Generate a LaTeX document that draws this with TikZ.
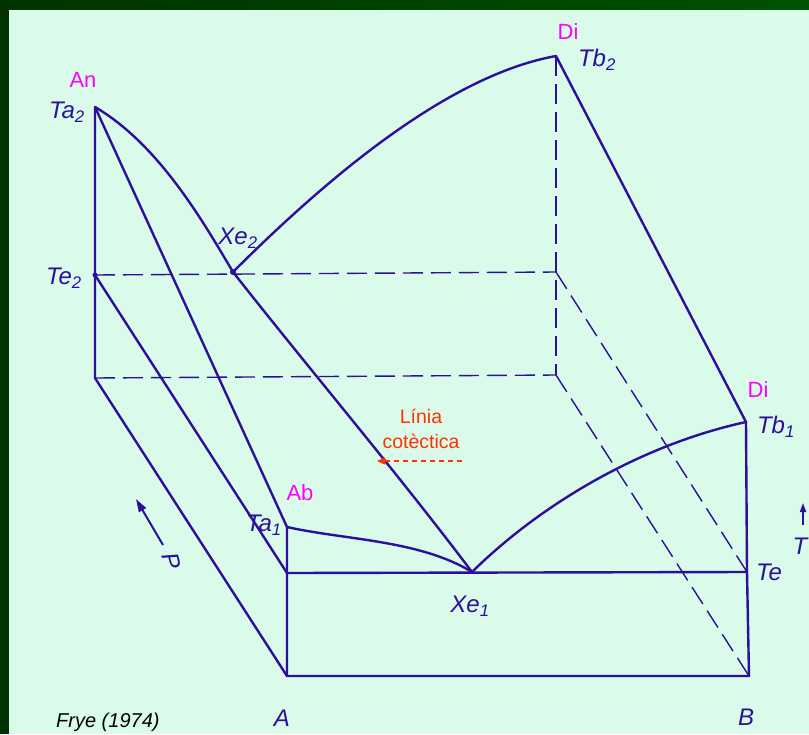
\documentclass[tikz,border=0pt]{standalone}
\usepackage{fontspec}
\setmainfont{Liberation Sans}
\usetikzlibrary{arrows.meta}
\definecolor{ink}{RGB}{45,15,155}
\definecolor{bgc}{RGB}{218,250,234}
\definecolor{dkg}{RGB}{0,51,0}
\definecolor{dkgb}{RGB}{0,82,0}
\definecolor{mag}{RGB}{255,0,255}
\definecolor{orr}{RGB}{255,51,0}
\begin{document}
\begin{tikzpicture}[x=1pt,y=-1pt,
  edgeline/.style={ink, line width=2.4pt, line join=round, line cap=round},
  hiddenline/.style={ink, line width=1.4pt, dash pattern=on 20pt off 8pt},
  lab/.style={ink, font=\fontsize{24}{26}\selectfont\itshape, inner sep=0pt},
  mlab/.style={mag, font=\fontsize{22}{24}\selectfont, inner sep=0pt},
  olab/.style={orr, font=\fontsize{19.5}{21}\selectfont, inner sep=0pt}]
\useasboundingbox (0,0) rectangle (809,734);
\clip (0,0) rectangle (809,734);
\fill[dkg] (0,0) rectangle (809,734);
\shade[left color=dkg, right color=dkgb] (0,0) rectangle (809,10);
\fill[bgc] (9,10) rectangle (809,734);

% vertices
\coordinate (Ta2) at (95,107);
\coordinate (Te2) at (95,275);
\coordinate (BL) at (95,378);
\coordinate (Xe2) at (233,272);
\coordinate (Tb2) at (556,56);
\coordinate (Be) at (556,272);
\coordinate (BR) at (556,375);
\coordinate (Tb1) at (746,422);
\coordinate (Te) at (747,572);
\coordinate (B) at (749,676);
\coordinate (A) at (287,676);
\coordinate (Ta1) at (287,527);
\coordinate (Fe) at (287,573);
\coordinate (Xe1) at (472,572);

% hidden edges
\draw[hiddenline] (Te2) -- (Be);
\draw[hiddenline] (BL) -- (BR);
\draw[hiddenline] (Tb2) -- (Be) -- (BR);
\draw[hiddenline] (Be) -- (Te);
\draw[hiddenline] (BR) -- (B);

% visible edges
\draw[edgeline] (Ta2) -- (Te2) -- (BL) -- (A) -- (B) -- (Te) -- (Tb1) -- (Tb2);
\draw[edgeline] (Ta2) -- (Ta1) -- (A);
\draw[edgeline] (Te2) -- (Fe) -- (Te);
\draw[edgeline] (Ta2) .. controls (160,145) and (205,225) .. (Xe2);
\draw[edgeline] (Xe2) .. controls (330,175) and (450,75) .. (Tb2);
\draw[edgeline] (Xe2) .. controls (310,370) and (395,470) .. (Xe1);
\draw[edgeline] (Ta1) .. controls (345,540) and (420,540) .. (Xe1);
\draw[edgeline] (Xe1) .. controls (540,505) and (640,445) .. (Tb1);
\fill[ink] (Xe2) circle (3pt);
\fill[ink] (Te2) circle (2.5pt);

% labels
\node[mlab] (lAn) at (83,80) {An};
\node[lab] (lTa2) at (67,112) {Ta\textsubscript{2}};
\node[mlab] (lDi2) at (568,32) {Di};
\node[lab] (lTb2) at (597,60) {Tb\textsubscript{2}};
\node[lab] (lXe2) at (238,238) {Xe\textsubscript{2}};
\node[lab] (lTe2) at (64,278) {Te\textsubscript{2}};
\node[mlab] (lDi1) at (758,390) {Di};
\node[lab] (lTb1) at (776,427) {Tb\textsubscript{1}};
\node[mlab] (lAb) at (300,493) {Ab};
\node[lab] (lTa1) at (264,525) {Ta\textsubscript{1}};
\node[lab] (lTe) at (769,572) {Te};
\node[lab] (lXe1) at (470,606) {Xe\textsubscript{1}};
\node[lab] (lA) at (282,718) {A};
\node[lab] (lB) at (746,717) {B};
\node[font=\fontsize{20}{22}\selectfont\itshape, inner sep=0pt, anchor=west] (lFrye) at (56,722) {Frye (1974)};

% cotectic annotation
\node[olab] (lLinia) at (421,416) {Línia};
\node[olab] (lCot) at (421,441) {cotèctica};
\coordinate (ctTail) at (462,461);
\coordinate (ctHead) at (377,461);
\draw[orr, line width=1.2pt, dash pattern=on 5pt off 4pt, -{Triangle[length=8pt,width=7pt]}] (ctTail) -- (ctHead);

% P axis
\coordinate (pTail) at (163,545);
\coordinate (pHead) at (136,499);
\draw[ink, line width=2pt, -{Triangle[length=13pt,width=8pt]}] (pTail) -- (pHead);
\node[lab, rotate=-75] (lP) at (172,561) {P};

% T axis
\coordinate (tTail) at (803,525);
\coordinate (tHead) at (803,503);
\draw[ink, line width=1.6pt, -{Triangle[length=9pt,width=6pt]}] (tTail) -- (tHead);
\node[lab] (lT) at (800,546) {T};
\end{tikzpicture}
\end{document}
